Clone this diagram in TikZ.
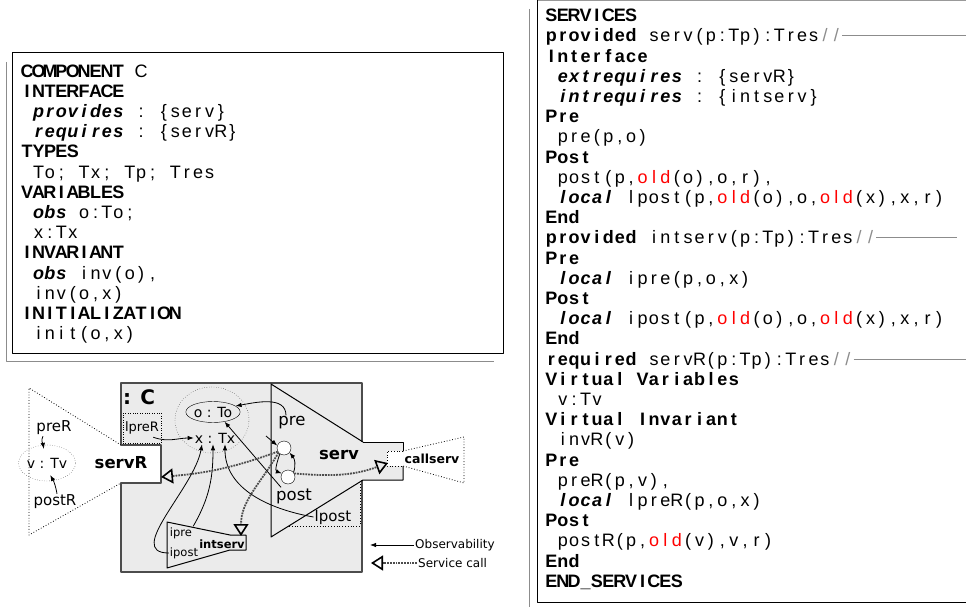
\documentclass[tikz,border=0pt]{standalone}
\usepackage{fontspec}
\setmainfont{Liberation Sans}
\newfontfamily\diafont{DejaVu Sans}
\usetikzlibrary{arrows.meta,shapes.geometric}

% fixed-pitch text: every character sits in its own cell
\def\monoend{\monoend}
\def\monoloop#1{\ifx#1\monoend\else\makebox[11.4pt][c]{#1}\expandafter\monoloop\fi}
\newcommand{\mono}[1]{\monoloop#1\monoend}
\newcommand{\tx}[1]{\mono{#1}}
\newcommand{\hd}[1]{{\bfseries\mono{#1}}}
\newcommand{\kw}[1]{{\bfseries\itshape\mono{#1}}}
\newcommand{\oldv}{\textcolor{red}{\mono{old}}}
\newcommand{\sepr}[1]{\textcolor{black!45}{\mono{//}\rule[6pt]{#1}{0.6pt}}}

\begin{document}
\begin{tikzpicture}[
	x=1pt, y=-1pt,
	line join=round,
	lbl/.style={font=\diafont\fontsize{#1}{#1}\selectfont, inner sep=1pt},
	blbl/.style={font=\diafont\bfseries\fontsize{#1}{#1}\selectfont, inner sep=1pt},
	obs/.style={-{Latex[length=6pt,width=4.5pt]}, line width=0.8pt},
	call/.style={densely dotted, line width=1.8pt, black!70,
		-{Triangle[open,length=12pt,width=15pt,line width=1.6pt,color=black]}},
	port/.style={dotted, line width=0.8pt},
	spec/.style={anchor=north west, inner sep=0pt, align=left,
		font=\fontsize{18}{20.2}\selectfont},
]

\useasboundingbox (0,0) rectangle (966,607);

% Component text
\draw[black!45, line width=0.8pt] (6,62) -- (6,361) -- (494,361);
\draw[line width=1pt] (12,53) rectangle (503,353);
\node[spec, text width=470pt] (comptext) at (21.3,62.7) {\strut
\hd{COMPONENT}\tx{~C}\\
\hd{INTERFACE}\\
\tx{~}\kw{provides}\tx{~:~\{serv\}}\\
\tx{~}\kw{requires}\tx{~:~\{servR\}}\\
\hd{TYPES}\\
\tx{~To;~Tx;~Tp;~Tres}\\
\hd{VARIABLES}\\
\tx{~}\kw{obs}\tx{~o:To;}\\
\tx{~x:Tx}\\
\hd{INVARIANT}\\
\tx{~}\kw{obs}\tx{~inv(o),}\\
\tx{~inv(o,x)}\\
\hd{INITIALIZATION}\\
\tx{~init(o,x)}};

% Services text
\draw[black!45, line width=0.8pt] (529,9) -- (529,607);
\draw[black!40, line width=0.8pt] (537,0.5) -- (966,0.5);
\draw[line width=1pt] (537,0.5) -- (537,602) -- (966,602);
\node[spec, text width=600pt] (servtext) at (545.5,7.4) {\strut
\hd{SERVICES}\\
\hd{provided}\tx{~serv(p:Tp):Tres}\sepr{150pt}\\
\hd{Interface}\\
\tx{~}\kw{extrequires}\tx{~:~\{servR\}}\\
\tx{~}\kw{intrequires}\tx{~:~\{intserv\}}\\
\hd{Pre}\\
\tx{~pre(p,o)}\\
\hd{Post}\\
\tx{~post(p,}\oldv\tx{(o),o,r),}\\
\tx{~}\kw{local}\tx{~lpost(p,}\oldv\tx{(o),o,}\oldv\tx{(x),x,r)}\\
\hd{End}\\
\hd{provided}\tx{~intserv(p:Tp):Tres}\sepr{81pt}\\
\hd{Pre}\\
\tx{~}\kw{local}\tx{~ipre(p,o,x)}\\
\hd{Post}\\
\tx{~}\kw{local}\tx{~ipost(p,}\oldv\tx{(o),o,}\oldv\tx{(x),x,r)}\\
\hd{End}\\
\hd{required}\tx{~servR(p:Tp):Tres}\sepr{150pt}\\
\hd{Virtual~Variables}\\
\tx{~v:Tv}\\
\hd{Virtual~Invariant}\\
\tx{~invR(v)}\\
\hd{Pre}\\
\tx{~preR(p,v),}\\
\tx{~}\kw{local}\tx{~lpreR(p,o,x)}\\
\hd{Post}\\
\tx{~postR(p,}\oldv\tx{(v),v,r)}\\
\hd{End}\\
\hd{END\_SERVICES}};

% Component body with the servR notch
\fill[black!8] (121,383) -- (362,383) -- (362,442) -- (403,442) -- (403,480) -- (362,480)
	-- (362,572) -- (121,572) -- (121,483) -- (161,483) -- (161,445) -- (121,445) -- cycle;
\draw[black!70, line width=1.4pt] (362,442) -- (362,383) -- (121,383) -- (121,445) -- (161,445)
	-- (161,483) -- (121,483) -- (121,572) -- (362,572) -- (362,480);

% serv
\draw[line width=1pt] (363,442) -- (271,384) -- (271,537) -- (363,480) -- (403,480) -- (403,466);
\draw[line width=1pt] (403,451) -- (403,442) -- (363,442);
\fill[white] (387,451) rectangle (403,466);
\draw[port] (403,451) -- (387,451) -- (387,466) -- (403,466);
\draw[port] (289,526) -- (360,526) -- (360,484);

% outside parts
\draw[port] (121,445) -- (29,388) -- (29,535) -- (121,483);
\draw[port] (403,451) -- (464,437) -- (464,483) -- (403,466);

% intserv
\draw[line width=1pt] (167,522) -- (230,535) -- (246,535) -- (246,550) -- (230,550) -- (167,568) -- cycle;

% Labels
\node[blbl=20, anchor=west] (cname) at (122,397) {: C};
\node[draw, dotted, ellipse, minimum width=74, minimum height=66] (statezone) at (212,420) {};
\node[lbl=14, draw, ellipse, minimum width=48, minimum height=21, inner sep=0pt] (oTo) at (213,412) {o : To};
\node[lbl=14] (xTx) at (215,438) {x : Tx};
\node[lbl=16.5] (pre) at (292,423) {pre};
\node[lbl=16.5] (post) at (294,496) {post};
\node[draw, circle, fill=white, minimum size=14, inner sep=0pt] (c1) at (284,448) {};
\node[draw, circle, fill=white, minimum size=14, inner sep=0pt] (c2) at (288,477) {};
\node[lbl=13, draw, dotted, minimum width=38, minimum height=30, inner sep=0pt] (lpreR) at (142,428) {lpreR};
\node[lbl=15] (lpost) at (333,517) {lpost};
\node[blbl=16.5] (serv) at (339,455) {serv};
\node[blbl=16.5] (servR) at (121,463) {servR};
\node[lbl=14, draw, dotted, ellipse, minimum width=50, minimum height=36, inner sep=0pt] (vTv) at (47,463) {v : Tv};
\node[lbl=15] (preR) at (54,428) {preR};
\node[lbl=15] (postR) at (55,502) {postR};
\node[blbl=11.5] (intserv) at (222,544) {intserv};
\node[lbl=11.5] (ipre) at (181,533) {ipre};
\node[lbl=11.5] (ipost) at (184,553) {ipost};
\node[blbl=12.5] (callserv) at (432,459) {callserv};

\coordinate (entry) at (266,436);
\coordinate (servRport) at (161,477);
\coordinate (callport) at (388,463);
\coordinate (intport) at (241,536);

% Observability
\draw[obs] ([xshift=-6pt]pre.north) to[out=90,in=10] (oTo.15);
\draw[obs] ([xshift=6pt]post.north west) -- (oTo.-40);
\draw[obs] (entry) -- (c1.160);
\draw[obs] (c1.-125) to[out=-110,in=160] (c2.150);
\draw[obs] (c2.40) to[out=70,in=-50] (c1.-40);
\draw[obs] ([xshift=-8pt,yshift=6pt]lpreR.south east) to[out=-20,in=180] (xTx.west);
\draw[obs] (ipost.west) to[out=180,in=-100] ([xshift=-13pt]xTx.south);
\draw[obs] (ipre.north east) to[out=60,in=-90] ([xshift=-2pt]xTx.south);
\draw[obs] (lpost.west) to[out=170,in=-90] ([xshift=10pt]xTx.south);
\draw[obs] ([xshift=-11pt]preR.south) to[out=-120,in=100] ([yshift=-4pt]vTv.100);
\draw[obs] ([xshift=2pt]postR.north) to[out=100,in=-60] ([yshift=6pt]vTv.-80);

% Service calls
\draw[call] (c2.30) to[out=-5,in=200] (callport);
\draw[call] (c1.-150) to[out=200,in=5] (servRport);
\draw[call] (c1.-140) to[out=240,in=90] (intport);

% Legend
\node[lbl=12, anchor=west] (obslbl) at (414,545) {Observability};
\node[lbl=12, anchor=west] (calllbl) at (417,563) {Service call};
\coordinate (obsend) at (370,545);
\coordinate (callend) at (371,563);
\draw[obs] (obslbl.west) -- (obsend);
\draw[call] (calllbl.west) -- (callend);

\end{tikzpicture}
\end{document}
